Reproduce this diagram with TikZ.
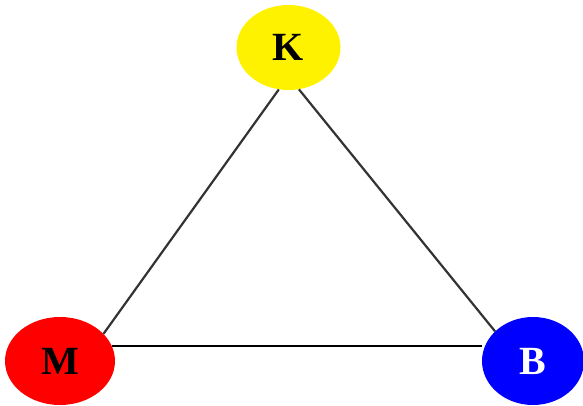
\documentclass[tikz,border=0pt]{standalone}
\usepackage{fontspec}
\setmainfont{Liberation Serif}
\usetikzlibrary{shapes.geometric}
\begin{document}
\begin{tikzpicture}[x=1pt,y=-1pt,
  vert/.style={ellipse, draw=none, inner sep=0pt, font=\fontsize{40}{40}\selectfont\bfseries},
  edge/.style={line width=2.2pt, draw=black!80}]
\useasboundingbox (0,0) rectangle (583,406);
\node[vert, fill=yellow, minimum width=104pt, minimum height=85pt] (K) at (288.5,47.5) {K};
\node[vert, fill=red, minimum width=110pt, minimum height=88pt] (M) at (60,361) {M};
\node[vert, fill=blue, text=white, minimum width=102pt, minimum height=88pt] (B) at (533,361) {B};
\draw[edge] (K.257) -- (M.32);
\draw[edge] (K.284) -- (B.142);
\draw[edge, draw=black] (M.16) -- (M.16 -| B.west);
\end{tikzpicture}
\end{document}
